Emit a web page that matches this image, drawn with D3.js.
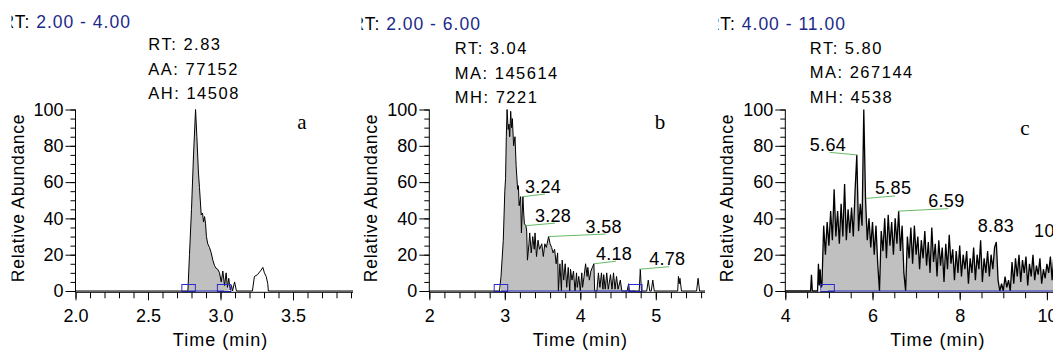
<!DOCTYPE html>
<html>
<head>
<meta charset="utf-8">
<script src="https://cdn.jsdelivr.net/npm/d3@7"></script>
<style>
  html, body { margin: 0; padding: 0; background: #fff; }
  svg { display: block; font-family: "Liberation Sans", Arial, sans-serif; }
</style>
</head>
<body>
<svg id="chart" width="1053" height="351"></svg>
<script>
// ---- data ----
const rtRanges = ["2.00 - 4.00", "2.00 - 6.00", "4.00 - 11.00"];
const panelLetters = ["a", "b", "c"];
const peakInfo = [
  ["RT: 2.83", "AA: 77152", "AH: 14508"],
  ["RT: 3.04", "MA: 145614", "MH: 7221"],
  ["RT: 5.80", "MA: 267144", "MH: 4538"]
];
const apexTimes = [2.83, 3.04, 5.80];
const xDomains = [[2, 4], [2, 6], [4, 11]];
const xMajorTicks = [[2.0, 2.5, 3.0, 3.5, 4.0], [2, 3, 4, 5, 6], [4, 6, 8, 10]];
const xTickFormats = [".1f", "d", "d"];
const xMinorSteps = [0.1, 0.2, 0.5];
const yMajorTicks = [0, 20, 40, 60, 80, 100];

// panel a trace: [time (min), relative abundance]
const traceA = [[2.00,0],[2.775,0],[2.786,20],[2.80,45],[2.814,75],[2.828,100],[2.837,85],[2.848,65],
  [2.855,57],[2.867,42],[2.876,43],[2.883,38],[2.89,41],[2.897,37],[2.903,30],[2.912,26],[2.924,24],
  [2.936,21],[2.947,17],[2.959,14],[2.97,12.5],[2.981,12],[2.993,10],[3.005,5],[3.016,11],[3.028,3],
  [3.039,10],[3.048,2],[3.057,7],[3.067,0.5],[3.076,3],[3.083,0],[3.097,5],[3.11,0],[3.22,0],
  [3.234,8],[3.255,9],[3.28,11.5],[3.292,13],[3.303,10],[3.315,8],[3.326,4],[3.33,0],[4.0,0]];

// panel b trace
const traceB = [[2.0,0],[2.93,0],[2.95,8],[2.98,28],[3.0,55],[3.01,62],[3.02,85],[3.03,100],[3.045,89],
  [3.056,92],[3.065,85],[3.078,99],[3.09,90],[3.1,95],[3.117,80],[3.135,85],[3.15,69],[3.17,56],
  [3.18,58],[3.19,47],[3.21,52],[3.22,32],[3.24,52],[3.25,43],[3.26,37],[3.28,36],[3.29,33],[3.3,17],
  [3.32,26],[3.33,32],[3.35,21],[3.37,30],[3.39,23],[3.4,32],[3.42,19],[3.44,28],[3.46,23],[3.49,26],
  [3.51,19],[3.53,26],[3.55,24],[3.58,30],[3.6,26],[3.62,24],[3.64,21],[3.66,23],[3.68,15],[3.7,21],
  [3.71,0],[3.73,15],[3.75,0],[3.76,17],[3.78,6],[3.8,15],[3.82,2],[3.84,13],[3.86,0],[3.87,12],
  [3.89,6],[3.91,11],[3.93,0],[3.95,10],[3.96,2],[3.98,8],[4.0,0],[4.02,10],[4.03,2],[4.05,8],
  [4.07,15],[4.09,8],[4.1,13],[4.12,6],[4.14,11],[4.16,13],[4.18,15],[4.19,0],[4.22,0],[4.24,10],
  [4.26,2],[4.28,10],[4.3,1],[4.31,9],[4.33,1],[4.35,10],[4.37,1],[4.4,9],[4.42,1],[4.44,10],
  [4.46,1],[4.48,8],[4.5,1],[4.53,6],[4.55,0],[4.62,0],[4.64,4],[4.65,0],[4.78,0],[4.795,12],
  [4.81,0],[4.88,0],[4.9,6],[4.92,0],[4.94,0],[4.96,6],[4.98,0],[5.29,0],[5.3,8],[5.31,4],[5.32,7],
  [5.34,0],[5.54,0],[5.56,7],[5.58,0],[6.0,0]];

// panel c: a few spikes before the hump, then scans every 0.04 min from 4.84 to 11.00
const leadC = [[4.0,0],[4.58,0],[4.6,9],[4.62,0],[4.74,0],[4.76,15],[4.78,3],[4.8,12],[4.82,2]];
const scanStartC = 4.84, scanStepC = 0.04;
const scansC = [
  3, 36, 20, 38, 25,   44, 28, 56, 30, 44,   26, 48, 30, 59, 28,   45, 32, 46, 30, 55,
  75, 33, 48, 36, 100, 51, 28, 40, 24, 38,   20, 36, 15, 0, 33,    22, 40, 18, 42, 25,
  38, 20, 40, 26, 44,  22, 36, 10, 0, 30,    18, 35, 15, 36, 20,   30, 12, 28, 18, 33,
  14, 27, 10, 35, 16,  26, 8, 28, 14, 24,    5, 26, 12, 31, 15,    23, 6, 22, 10, 25,
  8, 20, 12, 22, 4,    18, 10, 24, 6, 20,    12, 28, 5, 18, 10,    22, 8, 20, 12, 24,
  27, 6, 0, 4, 0,      8, 2, 6, 0, 16,       4, 18, 8, 20, 5,      17, 10, 19, 3, 15,
  8, 20, 6, 14, 9,     18, 4, 12, 7, 15,     10, 19, 6, 20, 8,     24, 10, 18, 5, 14,
  9, 17, 4, 12, 8,     16, 6, 14, 10, 18,    5, 13, 8, 15, 6
];
const traceC = leadC.concat(scansC.map((v, i) => [scanStartC + i * scanStepC, v]));

const traces = [traceA, traceB, traceC];
const fillWindows = [[2.775, 3.06], [2.94, 4.56], [4.84, 11.0]];
const peakMarkers = [[2.78, 3.025], [2.949, 4.729], [4.97, 12]];

// labelled peaks [time, abundance]
const peaksB = [[3.24, 52], [3.28, 36], [3.58, 30], [4.18, 15], [4.78, 12]];
const peaksC = [[5.64, 75], [5.85, 51], [6.59, 44], [8.83, 27], [10.24, 24]];
const peakLabels = [[], peaksB, peaksC];

// ---- layout ----
const layout = [
  { x0: 75.5,  x1: 365.5,  clip: [11.5, 353],  titleX: 15,    titleY: 27.5, annoDx: -47.5, annoY: 50,   letterX: 302,  letterY: 129, lineW: 1,   labelShift: [] },
  { x0: 429.3, x1: 731.3,  clip: [361.5, 705], titleX: 365,   titleY: 30,   annoDx: -53,   annoY: 54,   letterX: 660,  letterY: 129, lineW: 1,   labelShift: [2, 9, 37, 2, 10] },
  { x0: 785.3, x1: 1090.5, clip: [718, 1053],  titleX: 720.6, titleY: 30,   annoDx: -54,   annoY: 53.5, letterX: 1025, letterY: 135, lineW: 1.3, labelShift: [-47, 9, 30, null, null] }
];
const Y0 = 291, Y100 = 109.5;
const blue = "#2a2ad0", green = "#66bb66", navy = "#1b2a8a";

const svg = d3.select("#chart");
const defs = svg.append("defs");

layout.forEach((L, p) => {
  defs.append("clipPath").attr("id", "clip" + p)
    .append("rect").attr("x", L.clip[0]).attr("y", 0)
    .attr("width", L.clip[1] - L.clip[0]).attr("height", 351);

  const g = svg.append("g").attr("clip-path", "url(#clip" + p + ")");
  const x = d3.scaleLinear().domain(xDomains[p]).range([L.x0, L.x1]);
  const y = d3.scaleLinear().domain([0, 100]).range([Y0, Y100]);
  const axisY = Y0 + 1.3;

  // filled integrated region
  const w = fillWindows[p];
  const inWin = traces[p].filter(d => d[0] >= w[0] && d[0] <= w[1]);
  g.append("path").datum(inWin)
    .attr("fill", "#c0c0c0")
    .attr("d", d3.area().x(d => x(d[0])).y0(y(0)).y1(d => y(d[1])));

  // trace
  g.append("path").datum(traces[p])
    .attr("fill", "none").attr("stroke", "#000").attr("stroke-width", L.lineW)
    .attr("stroke-linejoin", "miter")
    .attr("d", d3.line().x(d => x(d[0])).y(d => y(d[1])));

  // peak start / end markers
  const m = peakMarkers[p];
  g.append("line")
    .attr("x1", x(m[0])).attr("x2", x(m[1])).attr("y1", y(0)).attr("y2", y(0))
    .attr("stroke", blue).attr("stroke-width", 1);
  g.selectAll(".mk").data(m).enter().append("rect")
    .attr("x", d => x(d) - 6.75).attr("y", y(0) - 6.5)
    .attr("width", 13.5).attr("height", 7)
    .attr("fill", "none").attr("stroke", blue).attr("stroke-width", 1);

  // x axis
  const xAxisG = g.append("g").attr("transform", "translate(0," + axisY + ")");
  xAxisG.append("line").attr("x1", L.x0).attr("x2", L.x1).attr("stroke", "#000");
  const minor = d3.range(xDomains[p][0], xDomains[p][1] + 1e-9, xMinorSteps[p]);
  xAxisG.call(d3.axisBottom(x).tickValues(minor).tickSize(6).tickFormat(""));
  xAxisG.append("g").call(d3.axisBottom(x).tickValues(xMajorTicks[p]).tickSize(8).tickPadding(9)
    .tickFormat(d3.format(xTickFormats[p])));
  xAxisG.selectAll(".domain").remove();
  xAxisG.selectAll("text").attr("font-size", 18).attr("font-family", "Liberation Sans, Arial, sans-serif").attr("fill", "#000");

  // y axis
  const yAxisG = g.append("g").attr("transform", "translate(" + L.x0 + ",0)");
  yAxisG.append("line").attr("y1", axisY).attr("y2", y(100)).attr("stroke", "#000");
  yAxisG.call(d3.axisLeft(y).tickValues(d3.range(0, 101, 5)).tickSize(5).tickFormat(""));
  yAxisG.append("g").call(d3.axisLeft(y).tickValues(yMajorTicks).tickSize(10).tickPadding(2));
  yAxisG.selectAll(".domain").remove();
  yAxisG.selectAll("text").attr("font-size", 18).attr("font-family", "Liberation Sans, Arial, sans-serif").attr("fill", "#000");

  // axis titles
  g.append("text")
    .attr("x", (L.x0 + L.x1) / 2).attr("y", 346)
    .attr("text-anchor", "middle").attr("font-size", 18).attr("letter-spacing", 1)
    .text("Time (min)");
  g.append("text")
    .attr("transform", "translate(" + (L.x0 - 52) + ",198) rotate(-90)")
    .attr("text-anchor", "middle").attr("font-size", 17.5).attr("letter-spacing", 0.7)
    .text("Relative Abundance");

  // RT range title
  const t = g.append("text")
    .attr("x", L.titleX - 13.6).attr("y", L.titleY)
    .attr("font-size", 17.5).attr("letter-spacing", 1);
  t.append("tspan").attr("fill", "#000").text("RT: ");
  t.append("tspan").attr("fill", navy).text(rtRanges[p]);

  // apex annotation
  g.selectAll(".anno").data(peakInfo[p]).enter().append("text")
    .attr("x", x(apexTimes[p]) + L.annoDx)
    .attr("y", (d, i) => L.annoY + i * 24.5)
    .attr("font-size", 16.5).attr("letter-spacing", 1.5)
    .text(d => d);

  // panel letter
  g.append("text")
    .attr("x", L.letterX).attr("y", L.letterY)
    .attr("text-anchor", "middle")
    .attr("font-family", "Liberation Serif, 'Times New Roman', serif")
    .attr("font-size", 21).text(panelLetters[p]);

  // labelled peaks with leader lines
  peakLabels[p].forEach((pk, i) => {
    const px = x(pk[0]), py = y(pk[1]);
    const shift = L.labelShift[i];
    if (shift === null) {
      g.append("text").attr("x", px).attr("y", py - 10)
        .attr("text-anchor", "middle").attr("font-size", 18).attr("letter-spacing", 0.3)
        .text(pk[0].toFixed(2));
    } else {
      const lx = px + shift, ly = py - 4;
      g.append("line")
        .attr("x1", px).attr("y1", py).attr("x2", lx + 20).attr("y2", ly + 1.5)
        .attr("stroke", green).attr("stroke-width", 1);
      g.append("text").attr("x", lx).attr("y", ly)
        .attr("font-size", 18).attr("letter-spacing", 0.3)
        .text(pk[0].toFixed(2));
    }
  });
});
</script>
</body>
</html>
